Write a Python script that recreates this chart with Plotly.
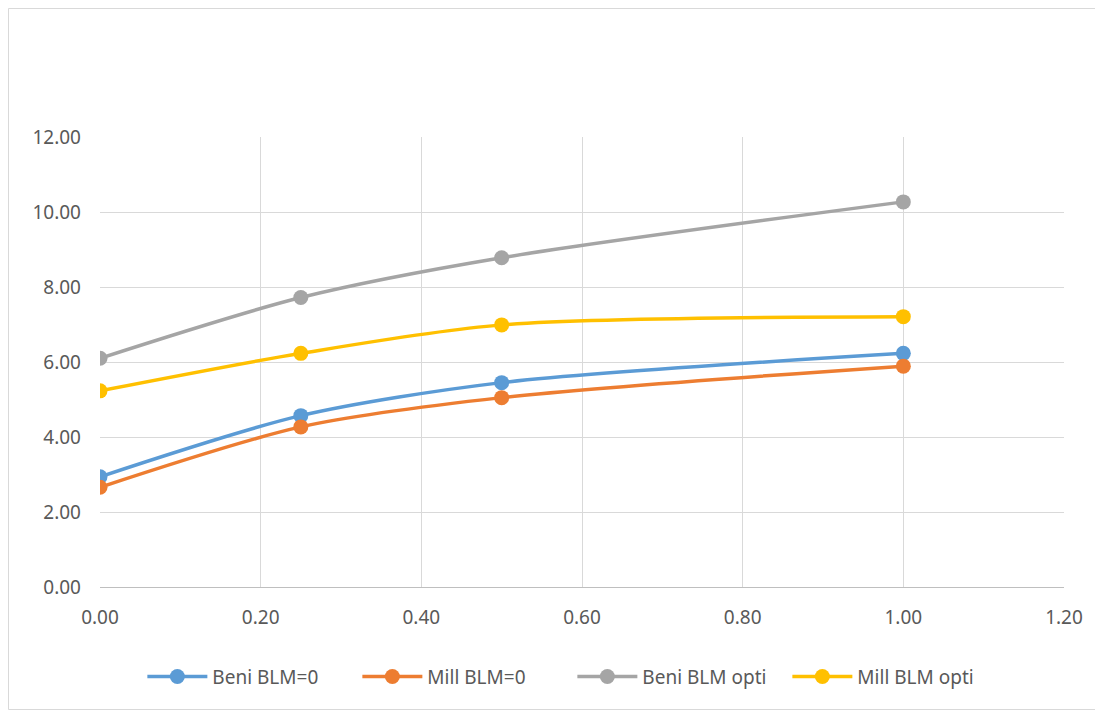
import plotly.graph_objects as go

# BLM share on the x axis, one value per measured point
x_vals = [0.0, 0.25, 0.5, 1.0]

beni_blm0 = [2.94, 4.57, 5.45, 6.23]
mill_blm0 = [2.66, 4.27, 5.05, 5.89]
beni_opti = [6.10, 7.72, 8.78, 10.27]
mill_opti = [5.23, 6.23, 6.99, 7.21]

names = ['Beni BLM=0', 'Mill BLM=0', 'Beni BLM opti', 'Mill BLM opti']
colors = ['#5B9BD5', '#ED7D31', '#A5A5A5', '#FFC000']

fig = go.Figure()
for name, ys, c in zip(names, [beni_blm0, mill_blm0, beni_opti, mill_opti], colors):
    fig.add_trace(go.Scatter(
        x=x_vals, y=ys, name=name, mode='lines+markers',
        line=dict(color=c, width=3.5, shape='spline', smoothing=0.8),
        marker=dict(color=c, size=15),
    ))

font_family = "Noto Sans, sans-serif"

# page body has an 8px margin, so the figure is sized/placed to compensate
fig.update_layout(
    width=1088, height=702,
    paper_bgcolor='white', plot_bgcolor='white',
    margin=dict(l=92, r=32, t=129, b=123),
    font=dict(family=font_family, size=19, color='#595959'),
    showlegend=True,
    legend=dict(orientation='h', x=0.49, xanchor='center', y=-0.157, yanchor='top',
                font=dict(size=19, color='#595959'), itemwidth=60,
                bgcolor='rgba(0,0,0,0)',
                entrywidth=140, entrywidthmode='pixels'),
    xaxis=dict(range=[0, 1.2], dtick=0.2, tickformat='.2f',
               showgrid=True, gridcolor='#D9D9D9', gridwidth=1,
               showline=True, linecolor='#BFBFBF', linewidth=1,
               zeroline=False, ticks='', ticklabelstandoff=13),
    yaxis=dict(range=[0, 12], dtick=2, tickformat='.2f',
               showgrid=True, gridcolor='#D9D9D9', gridwidth=1,
               zeroline=False, showline=False, ticks='', ticklabelstandoff=18),
)

# outer chart border like the spreadsheet frame
fig.add_shape(type='rect', xref='paper', yref='paper',
              x0=(0.5 - 92) / 964, x1=(1087.5 - 92) / 964,
              y0=(579 - 701.5) / 450, y1=1 + 128.5 / 450,
              line=dict(color='#D9D9D9', width=1), layer='below')

fig.write_html("out.html")
